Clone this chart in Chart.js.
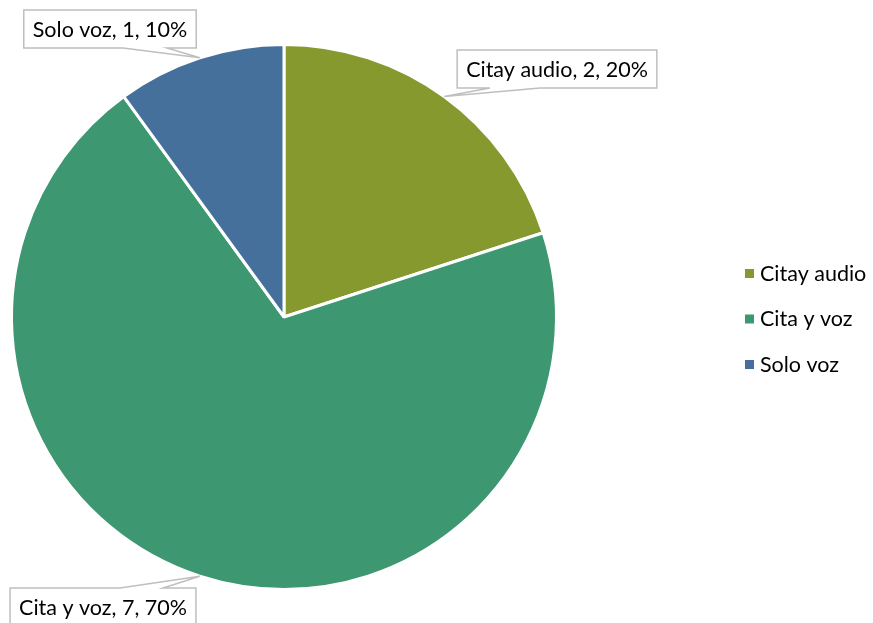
<!DOCTYPE html>
<html>
<head>
<meta charset="utf-8">
<script src="https://cdn.jsdelivr.net/npm/chart.js@4"></script>
<style>
    html, body {margin: 0; padding: 0; background: #fff;}
    #wrap {width: 873px; height: 623px; position: relative;}
</style>
</head>
<body>
<div id="wrap"><canvas id="pie"></canvas></div>
<script>
// данные диаграммы
const categories = ['Citay audio', 'Cita y voz', 'Solo voz'];
const values = [2, 7, 1];
const colors = ['#86992e', '#3d9771', '#45709c'];

// размещение выносок: центр рамки и основание "клина" (смещения по x от центра)
const callouts = [
    {cx: 557, cy: 69, edge: 'bottom', w1: -67, w2: -17},
    {cx: 103, cy: 607, edge: 'top', w1: 17, w2: 60},
    {cx: 110, cy: 29, edge: 'bottom', w1: 13, w2: 57}
];

const FONT = '21.5px Lato, "Open Sans", sans-serif';

const calloutPlugin = {
    id: 'callouts',
    afterDatasetsDraw(chart) {
        const ctx = chart.ctx;
        const meta = chart.getDatasetMeta(0);
        const total = values.reduce((a, b) => a + b, 0);
        ctx.save();
        ctx.font = FONT;
        meta.data.forEach((arc, i) => {
            const c = callouts[i];
            const mid = (arc.startAngle + arc.endAngle) / 2;
            const tx = arc.x + Math.cos(mid) * arc.outerRadius;
            const ty = arc.y + Math.sin(mid) * arc.outerRadius;
            const text = categories[i] + ', ' + values[i] + ', ' + Math.round(values[i] / total * 100) + '%';
            const tw = ctx.measureText(text).width;
            const w = tw + 18, h = 38;
            const x0 = c.cx - w / 2, x1 = c.cx + w / 2;
            const y0 = c.cy - h / 2, y1 = c.cy + h / 2;
            ctx.beginPath();
            if (c.edge === 'bottom') {
                ctx.moveTo(x0, y0);
                ctx.lineTo(x1, y0);
                ctx.lineTo(x1, y1);
                ctx.lineTo(c.cx + c.w2, y1);
                ctx.lineTo(tx, ty);
                ctx.lineTo(c.cx + c.w1, y1);
                ctx.lineTo(x0, y1);
            } else {
                ctx.moveTo(x0, y1);
                ctx.lineTo(x0, y0);
                ctx.lineTo(c.cx + c.w1, y0);
                ctx.lineTo(tx, ty);
                ctx.lineTo(c.cx + c.w2, y0);
                ctx.lineTo(x1, y0);
                ctx.lineTo(x1, y1);
            }
            ctx.closePath();
            ctx.fillStyle = '#ffffff';
            ctx.fill();
            ctx.lineWidth = 1.5;
            ctx.strokeStyle = '#bfbfbf';
            ctx.stroke();
            ctx.fillStyle = '#000000';
            ctx.textAlign = 'center';
            ctx.textBaseline = 'middle';
            ctx.fillText(text, c.cx, c.cy + 1);
        });
        ctx.restore();
    }
};

// легенда справа (своя, чтобы круг остался на месте)
const legendPlugin = {
    id: 'sideLegend',
    afterDraw(chart) {
        const ctx = chart.ctx;
        ctx.save();
        ctx.font = FONT;
        ctx.textBaseline = 'middle';
        ctx.textAlign = 'left';
        categories.forEach((name, i) => {
            const y = 273 + i * 45.5;
            ctx.fillStyle = colors[i];
            ctx.fillRect(745, y - 4, 9, 9);
            ctx.fillStyle = '#000000';
            ctx.fillText(name, 760, y + 1);
        });
        ctx.restore();
    }
};

new Chart(document.getElementById('pie'), {
    type: 'pie',
    data: {
        labels: categories,
        datasets: [{
            data: values,
            backgroundColor: colors,
            borderColor: '#ffffff',
            borderWidth: 3
        }]
    },
    options: {
        responsive: true,
        maintainAspectRatio: false,
        animation: false,
        layout: {padding: {left: 10, right: 315, top: 42, bottom: 31}},
        plugins: {
            legend: {display: false},
            tooltip: {enabled: false}
        }
    },
    plugins: [calloutPlugin, legendPlugin]
});
</script>
</body>
</html>
